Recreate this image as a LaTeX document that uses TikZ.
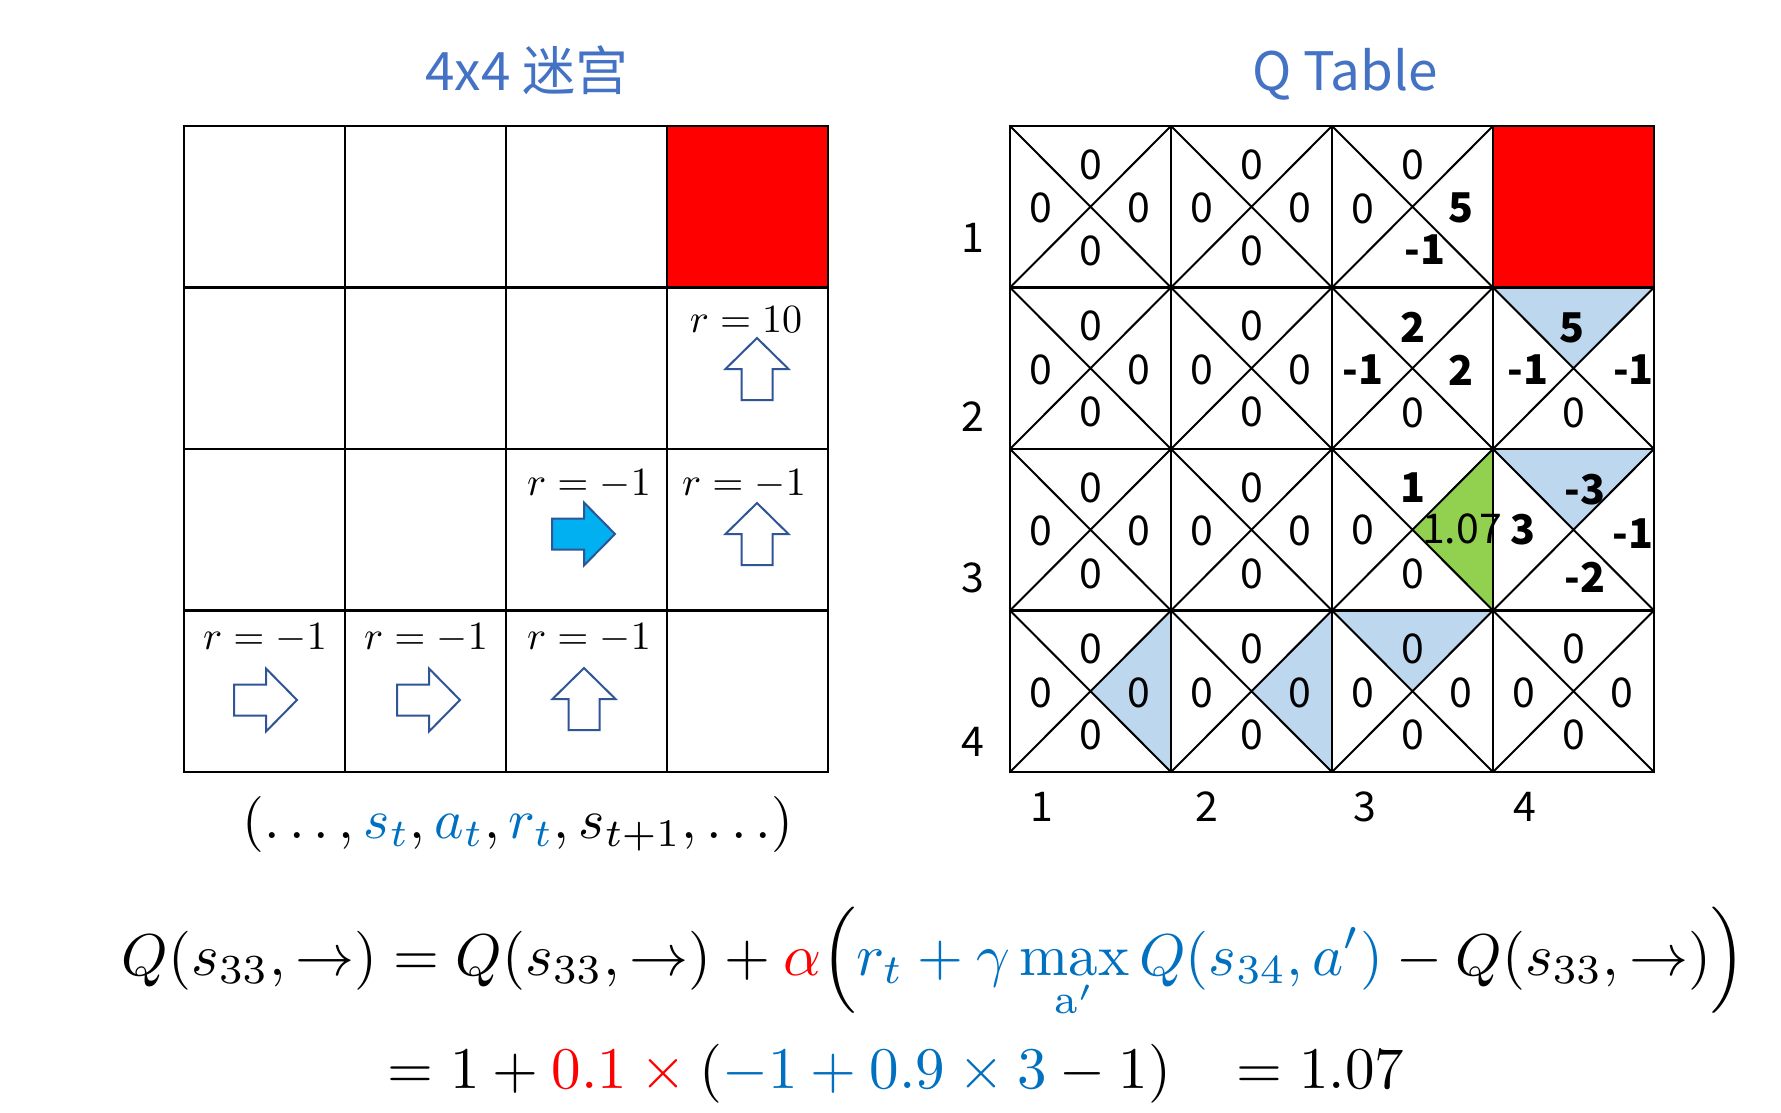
\documentclass[tikz,border=0pt]{standalone}
\usepackage{fontspec}
\usepackage{amsmath}
\newfontfamily\qfont{Noto Sans CJK SC}
\definecolor{titleblue}{HTML}{4472C4}
\definecolor{mblue}{HTML}{0070C0}
\definecolor{arrowblue}{HTML}{2F5597}
\definecolor{cyanfill}{HTML}{00B0F0}
\definecolor{triblue}{HTML}{BDD7EE}
\definecolor{trigreen}{HTML}{92D050}
\tikzset{
  gridline/.style={line width=2.5pt, line cap=rect},
  diagline/.style={line width=2pt},
  qnum/.style={font=\qfont\fontsize{41}{41}\selectfont, inner sep=0pt},
  qbold/.style={font=\qfont\bfseries\fontsize{41}{41}\selectfont, inner sep=0pt},
  axislabel/.style={font=\qfont\fontsize{41}{41}\selectfont, inner sep=0pt},
  titletext/.style={font=\qfont\fontsize{53}{53}\selectfont, text=titleblue, inner sep=0pt, anchor=base},
  rlabel/.style={scale=4, inner sep=0pt},
  mathline/.style={scale=5.9, inner sep=0pt, anchor=base},
  hollowarrow/.style={draw=arrowblue, line width=2pt, fill=white, line join=miter},
  solidarrow/.style={draw=arrowblue, line width=2pt, fill=cyanfill, line join=miter},
  bluetri/.style={fill=triblue, draw=arrowblue, line width=1pt},
  greentri/.style={fill=trigreen, draw=arrowblue, line width=1pt},
  uparr/.pic={\path[pic actions] (0,-31) -- (31.5,0) -- (15.5,0) -- (15.5,31) -- (-15.5,31) -- (-15.5,0) -- (-31.5,0) -- cycle;},
  rightarr/.pic={\path[pic actions] (31,0) -- (0,31.5) -- (0,15.5) -- (-32,15.5) -- (-32,-15.5) -- (0,-15.5) -- (0,-31.5) -- cycle;}
}
\begin{document}
\begin{tikzpicture}[x=1pt,y=-1pt]
\useasboundingbox[fill=white] (0,0) rectangle (1781,1112);

% titles
\node[titletext] (title1) at (527,90) {4x4 迷宫};
\node[titletext] (title2) at (1345,90) {Q Table};

% ---------- maze ----------
\fill[red] (667,126) rectangle (828,287.5);
\foreach \i in {0,...,4} {
  \draw[gridline] ({184+161*\i},126) -- ({184+161*\i},772);
  \draw[gridline] (184,{126+161.5*\i}) -- (828,{126+161.5*\i});
}
% arrows
\pic[hollowarrow] at (757,369) {uparr};
\pic[hollowarrow] at (757,534) {uparr};
\pic[hollowarrow] at (584,699) {uparr};
\pic[solidarrow] at (584,534) {rightarr};
\pic[hollowarrow] at (266,700) {rightarr};
\pic[hollowarrow] at (429,700) {rightarr};
% rewards
\node[rlabel] (r24) at (746,320) {$r=10$};
\node[rlabel] (r33) at (589,484) {$r=-1$};
\node[rlabel] (r34) at (744,484) {$r=-1$};
\node[rlabel] (r41) at (265,638) {$r=-1$};
\node[rlabel] (r42) at (426,638) {$r=-1$};
\node[rlabel] (r43) at (589,638) {$r=-1$};

\node[scale=5.6, inner sep=0pt] (seq) at (518,824) {$(\ldots,{\color{mblue}s_t},{\color{mblue}a_t},{\color{mblue}r_t},s_{t+1},\ldots)$};

% ---------- Q table ----------
\fill[red] (1493,126) rectangle (1654,287.5);
\path[bluetri] (1493,287.5) -- (1654,287.5) -- (1573.5,368.25) -- cycle;
\path[bluetri] (1493,449) -- (1654,449) -- (1573.5,529.75) -- cycle;
\path[greentri] (1493,449) -- (1493,610.5) -- (1412.5,529.75) -- cycle;
\path[bluetri] (1171,610.5) -- (1171,772) -- (1090.5,691.25) -- cycle;
\path[bluetri] (1332,610.5) -- (1332,772) -- (1251.5,691.25) -- cycle;
\path[bluetri] (1332,610.5) -- (1493,610.5) -- (1412.5,691.25) -- cycle;

\foreach \c in {1,2,3} {
  \draw[diagline] ({1010+161*(\c-1)},126) -- ({1010+161*\c},287.5)
                  ({1010+161*\c},126) -- ({1010+161*(\c-1)},287.5);
}
\foreach \r in {2,3,4} {
  \foreach \c in {1,...,4} {
    \draw[diagline] ({1010+161*(\c-1)},{126+161.5*(\r-1)}) -- ({1010+161*\c},{126+161.5*\r})
                    ({1010+161*\c},{126+161.5*(\r-1)}) -- ({1010+161*(\c-1)},{126+161.5*\r});
  }
}
\foreach \i in {0,...,4} {
  \draw[gridline] ({1010+161*\i},126) -- ({1010+161*\i},772);
  \draw[gridline] (1010,{126+161.5*\i}) -- (1654,{126+161.5*\i});
}

% zero cells
\foreach \r/\c in {1/1,1/2,2/1,2/2,3/1,3/2,4/1,4/2,4/3,4/4} {
  \pgfmathsetmacro\cx{1010+161*(\c-1)+80.5}
  \pgfmathsetmacro\cy{126+161.5*(\r-1)+80.75}
  \node[qnum] (q\r\c t) at (\cx,\cy-42) {0};
  \node[qnum] (q\r\c l) at (\cx-50,\cy+1.5) {0};
  \node[qnum] (q\r\c r) at (\cx+48,\cy+1.5) {0};
  \node[qnum] (q\r\c b) at (\cx,\cy+44) {0};
}
% cell (1,3)
\node[qnum]  (q13t) at (1412.5,165) {0};
\node[qnum]  (q13l) at (1362.5,208.5) {0};
\node[qbold] (q13r) at (1461,208) {5};
\node[qbold] (q13b) at (1425,250) {-1};
% cell (2,3)
\node[qbold] (q23t) at (1413,327) {2};
\node[qbold] (q23l) at (1363,370) {-1};
\node[qbold] (q23r) at (1461,370) {2};
\node[qnum]  (q23b) at (1412.5,413) {0};
% cell (2,4)
\node[qbold] (q24t) at (1572,328) {5};
\node[qbold] (q24l) at (1528,370) {-1};
\node[qbold] (q24r) at (1633.5,370) {-1};
\node[qnum]  (q24b) at (1573.5,413) {0};
% cell (3,3)
\node[qbold] (q33t) at (1413,488) {1};
\node[qnum]  (q33l) at (1362.5,530) {0};
\node[qnum]  (q33r) at (1462,529) {1.07};
\node[qnum]  (q33b) at (1412.5,574) {0};
% cell (3,4)
\node[qbold] (q34t) at (1585,490) {-3};
\node[qbold] (q34l) at (1523,530) {3};
\node[qbold] (q34r) at (1633,534) {-1};
\node[qbold] (q34b) at (1585,577) {-2};

% axis labels
\node[axislabel] (row1) at (973,238) {1};
\node[axislabel] (row2) at (973,417) {2};
\node[axislabel] (row3) at (973,578) {3};
\node[axislabel] (row4) at (973,742) {4};
\node[axislabel] (col1) at (1042,807) {1};
\node[axislabel] (col2) at (1207,807) {2};
\node[axislabel] (col3) at (1365,807) {3};
\node[axislabel] (col4) at (1525,807) {4};

% ---------- formula ----------
\node[mathline] (eq1) at (934,975) {$\displaystyle Q(s_{33},\rightarrow)=Q(s_{33},\rightarrow)+{\color{red}\alpha}\Bigl({\color{mblue}r_t+\gamma\max_{\mathrm{a}'}Q(s_{34},a')}-Q(s_{33},\rightarrow)\Bigr)$};
\node[mathline] (eq2) at (896,1088) {$=1+{\color{red}0.1}\mathbin{\color{red}\times}({\color{mblue}-1+0.9\times 3}-1)\;\;\;=1.07$};
\end{tikzpicture}
\end{document}
